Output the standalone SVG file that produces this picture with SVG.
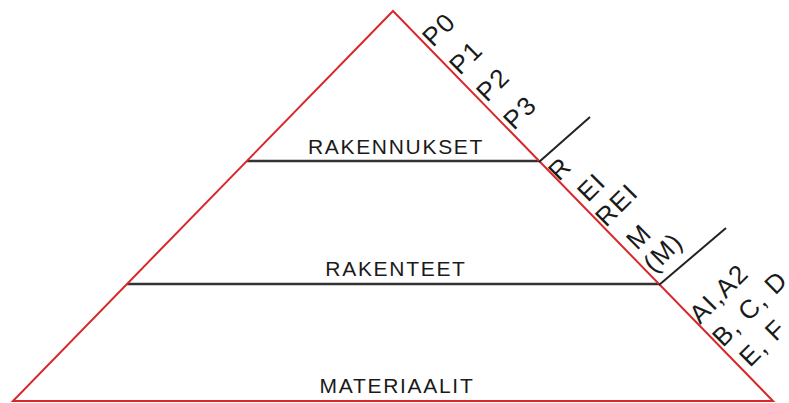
<svg xmlns="http://www.w3.org/2000/svg" width="789" height="403" viewBox="0 0 789 403">
<style>
.lbl{font-family:"Liberation Sans",Arial,sans-serif;font-size:21px;letter-spacing:1.7px;fill:#1a1a1a;text-anchor:middle}
.rot{font-family:"Liberation Sans",Arial,sans-serif;font-size:26px;letter-spacing:1.5px;fill:#1a1a1a}
.div{stroke:#333;stroke-width:2.5;fill:none}
.tick{stroke:#222;stroke-width:2;fill:none}
.edge{stroke:#d8282c;stroke-width:2;fill:none;stroke-linejoin:miter}
</style>
<rect width="789" height="403" fill="#fff"/>
<g id="tier-rakennukset">
<line class="div" x1="247" y1="161" x2="539" y2="161"/>
<text class="lbl" x="396" y="154">RAKENNUKSET</text>
</g>
<g id="tier-rakenteet">
<line class="div" x1="127" y1="284" x2="659" y2="284"/>
<text class="lbl" x="396" y="276">RAKENTEET</text>
</g>
<g id="tier-materiaalit">
<text class="lbl" x="397" y="393">MATERIAALIT</text>
</g>
<g id="pyramid">
<polygon class="edge" points="393,11 773,401 13,401"/>
</g>
<g id="connectors">
<line class="tick" x1="539" y1="162" x2="590" y2="117"/>
<line class="tick" x1="659" y1="285" x2="726" y2="228"/>
</g>
<g id="labels-p">
<text class="rot" transform="translate(433,48) rotate(-45)">P0</text>
<text class="rot" transform="translate(460,76) rotate(-45)">P1</text>
<text class="rot" transform="translate(487,103) rotate(-45)">P2</text>
<text class="rot" transform="translate(514,131) rotate(-45)">P3</text>
</g>
<g id="labels-rei">
<text class="rot" transform="translate(559,182) rotate(-45)">R</text>
<text class="rot" transform="translate(588,203) rotate(-45)">EI</text>
<text class="rot" transform="translate(606,228) rotate(-45)">REI</text>
<text class="rot" transform="translate(637,251) rotate(-45)">M</text>
<text class="rot" transform="translate(654,274) rotate(-45)">(M)</text>
</g>
<g id="labels-a">
<text class="rot" transform="translate(700,325) rotate(-45)">AI,A2</text>
<text class="rot" transform="translate(723,348) rotate(-45)">B, C, D</text>
<text class="rot" transform="translate(750,368) rotate(-45)">E, F</text>
</g>
</svg>
